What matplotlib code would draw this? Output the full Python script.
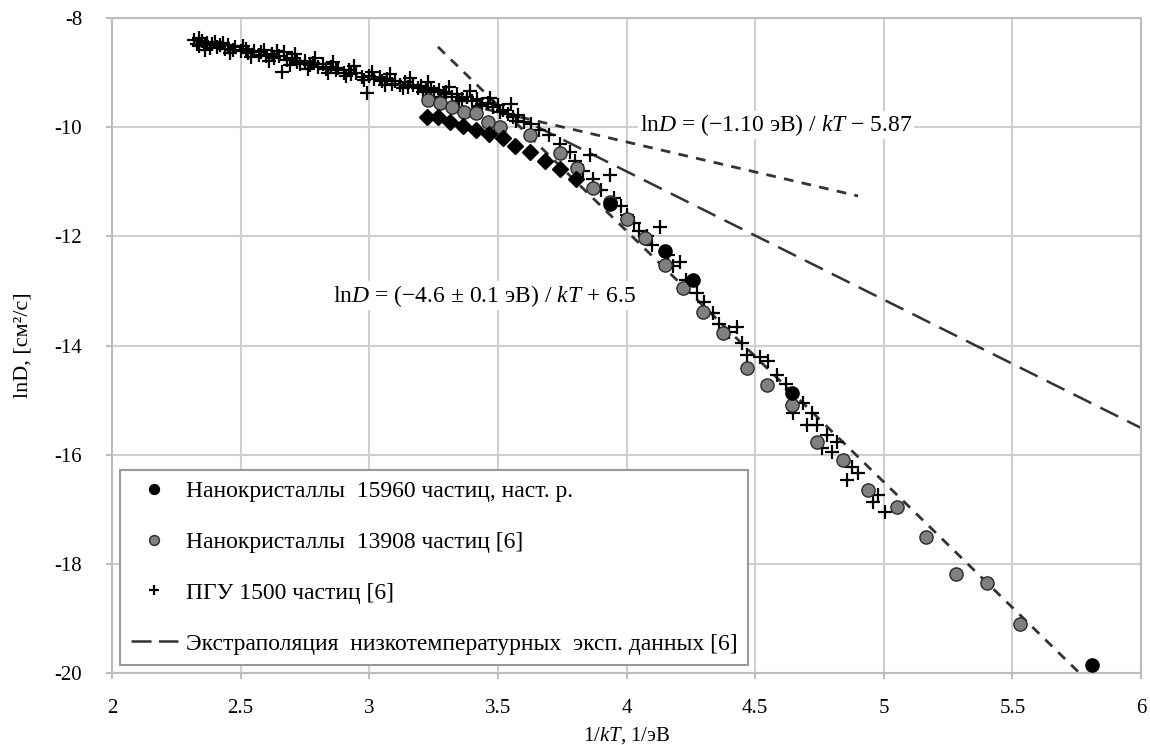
#!/usr/bin/env python3

import numpy as np
import matplotlib
matplotlib.use("Agg")
import matplotlib.pyplot as plt
from matplotlib.lines import Line2D

plt.rcParams["font.family"] = ["Liberation Serif", "DejaVu Serif"]
plt.rcParams["mathtext.fontset"] = "custom"
plt.rcParams["mathtext.rm"] = "Liberation Serif"
plt.rcParams["mathtext.it"] = "Liberation Serif:italic"
plt.rcParams["axes.unicode_minus"] = False

# Нанокристаллы 15960 частиц, наст. р. (circles in legend, diamonds at high T)
nano_15960_x = [3.935, 4.149, 4.258, 4.643, 5.808]
nano_15960_y = [-11.41, -12.26, -12.80, -14.87, -19.86]
nano_15960_dx = [3.224, 3.267, 3.314, 3.364, 3.415, 3.465, 3.520, 3.566,
                 3.625, 3.683, 3.741, 3.803]
nano_15960_dy = [-9.81, -9.81, -9.90, -9.98, -10.05, -10.12, -10.20, -10.34,
                 -10.45, -10.62, -10.77, -10.95]

# Нанокристаллы 13908 частиц [6]
nano_13908_x = [3.228, 3.275, 3.321, 3.368, 3.415, 3.461, 3.51, 3.625, 3.741,
                3.807, 3.869, 3.935, 4.0, 4.072, 4.149, 4.219, 4.297, 4.375,
                4.468, 4.546, 4.643, 4.74, 4.841, 4.938, 5.051, 5.164, 5.28,
                5.40, 5.529]
nano_13908_y = [-9.50, -9.56, -9.63, -9.72, -9.74, -9.90, -10.0, -10.14, -10.47,
                -10.75, -11.11, -11.37, -11.68, -12.03, -12.52, -12.95, -13.38,
                -13.77, -14.41, -14.72, -15.09, -15.77, -16.10, -16.64, -16.96,
                -17.51, -18.18, -18.35, -19.10]

# ПГУ 1500 частиц [6]
pgu_x = [2.32, 2.33, 2.34, 2.35, 2.36, 2.37, 2.38, 2.39, 2.40, 2.41, 2.42,
         2.44, 2.45, 2.47, 2.48, 2.50, 2.52, 2.53, 2.55, 2.57, 2.58, 2.60,
         2.62, 2.63, 2.65, 2.66, 2.67, 2.68, 2.70, 2.72, 2.73, 2.75, 2.77,
         2.78, 2.80, 2.82, 2.83, 2.85, 2.87, 2.88, 2.90, 2.92, 2.93, 2.95,
         2.97, 2.99, 3.00, 3.02, 3.04, 3.05, 3.07, 3.09, 3.10, 3.12, 3.14,
         3.15, 3.17, 3.19, 3.20, 3.22, 3.24, 3.25, 3.27, 3.29, 3.30, 3.32,
         3.34, 3.36, 3.38, 3.40, 3.42, 3.44, 3.46, 3.48, 3.50, 3.52, 3.54,
         3.56, 3.58, 3.60, 3.63, 3.66, 3.70, 3.74, 3.78,
         2.34, 2.43, 2.51, 2.59, 2.64, 2.71, 2.79, 2.86, 2.94, 3.01, 3.08,
         3.16, 3.23, 3.31, 3.39, 3.47, 3.55,
         2.36, 2.46, 2.54, 2.61, 2.69, 2.76, 2.84, 2.91, 2.98, 3.06, 3.13,
         3.21, 3.28, 3.35, 3.43, 3.51, 3.57,
         3.80, 3.83, 3.858, 3.87, 3.90, 3.935, 3.95, 3.98, 4.00, 4.03, 4.05,
         4.08, 4.10, 4.13, 4.16, 4.18, 4.207, 4.23, 4.273, 4.30, 4.336, 4.36,
         4.40, 4.429, 4.448, 4.468, 4.518, 4.55, 4.584, 4.62, 4.647, 4.685,
         4.70, 4.72, 4.74, 4.759, 4.779, 4.80, 4.818, 4.856, 4.876, 4.899,
         4.958, 4.977, 5.004]
pgu_y = [-8.40, -8.47, -8.52, -8.43, -8.50, -8.45, -8.55, -8.48, -8.44, -8.53,
         -8.50, -8.56, -8.49, -8.58, -8.53, -8.61, -8.56, -8.64, -8.60, -8.67,
         -8.62, -8.70, -8.66, -8.74, -8.69, -8.99, -8.62, -8.77, -8.73, -8.80,
         -8.84, -8.78, -8.86, -8.82, -8.90, -8.85, -8.93, -8.89, -8.96, -8.92,
         -9.00, -8.95, -9.03, -9.00, -9.08, -9.38, -9.06, -9.12, -9.08, -9.16,
         -9.12, -9.20, -9.15, -9.22, -9.18, -9.26, -9.22, -9.28, -9.25, -9.31,
         -9.28, -9.36, -9.32, -9.40, -9.36, -9.44, -9.40, -9.48, -9.45, -9.52,
         -9.49, -9.58, -9.55, -9.63, -9.60, -9.68, -9.75, -9.82, -9.78, -9.90,
         -9.95, -10.05, -10.15, -10.30, -10.45,
         -8.36, -8.45, -8.52, -8.58, -8.60, -8.66, -8.74, -8.80, -8.87, -8.98,
         -9.03, -9.10, -9.17, -9.26, -9.33, -9.46, -9.58,
         -8.58, -8.64, -8.72, -8.79, -8.86, -8.93, -9.00, -9.07, -9.14, -9.22,
         -9.29, -9.36, -9.45, -9.52, -9.62, -9.72, -9.88,
         -10.62, -10.80, -10.51, -10.95, -11.15, -10.88, -11.30, -11.45, -11.60,
         -11.75, -11.90, -12.00, -12.15, -11.83, -12.35, -12.55, -12.47, -12.80,
         -13.04, -13.20, -13.40, -13.60, -13.75, -13.66, -13.95, -14.17, -14.21,
         -14.28, -14.54, -14.70, -15.23, -15.05, -15.45, -15.23, -15.45, -15.88,
         -15.64, -15.95, -15.77, -16.46, -16.22, -16.33, -16.86, -16.74, -17.05]

# Arrhenius fits: lnD = slope / kT + intercept, drawn between x0 and x1
fit_high = (-1.10, -5.87, 3.45, 4.90)
fit_low = (-4.6, 6.5, 3.267, 5.78)
# extrapolation of low-temperature experimental data [6]
extrap = (-2.35, -1.41, 3.65, 6.0)

xticks = [2, 2.5, 3, 3.5, 4, 4.5, 5, 5.5, 6]
yticks = [-8, -10, -12, -14, -16, -18, -20]

LINE = "#333333"


def arrhenius(fit):
    slope, icpt, x0, x1 = fit
    x = np.array([x0, x1])
    return x, slope * x + icpt


fig = plt.figure(figsize=(11.5, 7.45), dpi=100)
ax = fig.add_axes([0.0974, 0.0966, 0.8948, 0.8792])

h_pgu, = ax.plot(pgu_x, pgu_y, linestyle="none", marker="+", ms=9.5, mew=1.6,
                 color="black", zorder=3)
h_13908, = ax.plot(nano_13908_x, nano_13908_y, linestyle="none", marker="o",
                   ms=9.5, mfc="#808080", mec="#2a2a2a", mew=1.0, zorder=4)
ax.plot(nano_15960_dx, nano_15960_dy, linestyle="none", marker="D", ms=8.5,
        color="black", zorder=4)
h_15960, = ax.plot(nano_15960_x, nano_15960_y, linestyle="none", marker="o",
                   ms=9.5, color="black", zorder=5)

x, y = arrhenius(fit_high)
ax.plot(x, y, color=LINE, lw=2, dashes=(3.5, 3), zorder=2)
x, y = arrhenius(fit_low)
ax.plot(x, y, color=LINE, lw=2, dashes=(3.5, 3), zorder=2)
x, y = arrhenius(extrap)
ax.plot(x, y, color=LINE, lw=1.8, dashes=(8, 4), zorder=2)

box = dict(facecolor="white", edgecolor="none", pad=1)
ax.text(4.052, -9.96, r"ln$\mathit{D}$ = (−1.10 эВ) / $\mathit{kT}$ − 5.87",
        fontsize=17, va="center", ha="left", bbox=box, zorder=3)
ax.text(2.859, -13.09, r"ln$\mathit{D}$ = (−4.6 ± 0.1 эВ) / $\mathit{kT}$ + 6.5",
        fontsize=17, va="center", ha="left", bbox=box, zorder=3)

ax.set_xlim(2, 6)
ax.set_ylim(-20, -8)
ax.set_xticks(xticks)
ax.set_xticklabels([f"{t:g}" for t in xticks])
ax.set_yticks(yticks)
ax.grid(True, color="#cfcfcf", lw=1.5, zorder=0)
ax.set_axisbelow(True)
for s in ax.spines.values():
    s.set_color("#bdbdbd")
    s.set_linewidth(1.5)
ax.tick_params(axis="both", colors="#bdbdbd", labelcolor="black",
               length=4, width=1.5, labelsize=15)
ax.tick_params(axis="y", pad=17.5)
ax.tick_params(axis="x", pad=15)

ax.set_xlabel(r"1/$\mathit{kT}$, 1/эВ", fontsize=15, labelpad=5)
ax.set_ylabel("lnD, [см²/с]", fontsize=16, labelpad=16)

# legend key for the extrapolation: two long dashes
h_extrap = Line2D([], [], color=LINE, lw=1.8, dashes=(8, 3))
leg = ax.legend([h_15960, h_13908, h_pgu, h_extrap],
                ["Нанокристаллы  15960 частиц, наст. р.",
                 "Нанокристаллы  13908 частиц [6]",
                 "ПГУ 1500 частиц [6]",
                 "Экстраполяция  низкотемпературных  эксп. данных [6]"],
                loc="lower left", bbox_to_anchor=(0.0078, 0.012),
                borderaxespad=0, fontsize=17, labelspacing=1.24,
                handlelength=2.0, handletextpad=0.35, borderpad=0.45,
                fancybox=False, framealpha=1, edgecolor="#9a9a9a",
                markerscale=0.75)
leg.get_frame().set_linewidth(1.5)

fig.savefig("out.png", dpi=100)
